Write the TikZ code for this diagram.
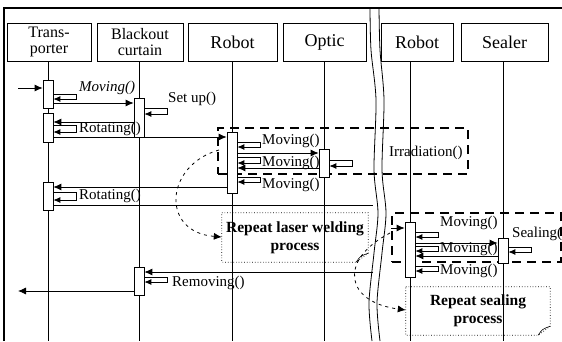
\documentclass[tikz,border=0pt]{standalone}
\usepackage{fontspec}
\setmainfont{Liberation Serif}
\usetikzlibrary{arrows.meta,calc}
\newcommand\selfmsg[3]{\draw[selfc] (#1.east |- 0,#2) -- ++(23,0) |- (#1.east |- 0,#3);}
\newcommand\callmsg[3]{\draw[msg] (#1 |- 0,#3) -- (#2 |- 0,#3);}
\tikzset{
  hdr/.style={draw, line width=0.8pt, font=\fontsize{18}{18}\selectfont, align=center, inner sep=0pt, minimum height=38pt},
  hdrtwo/.style={hdr, font=\fontsize{16}{16.5}\selectfont},
  life/.style={line width=0.7pt},
  act/.style={draw, fill=white, line width=0.7pt, minimum width=10pt, inner sep=0pt},
  msg/.style={line width=0.8pt, -{Latex[length=8pt,width=7pt]}},
  plainmsg/.style={line width=0.8pt},
  selfc/.style={line width=0.8pt, -{Latex[length=7pt,width=6pt]}},
  lbl/.style={font=\fontsize{15}{15}\selectfont, inner sep=0pt, anchor=west},
  loopbox/.style={draw, line width=1.6pt, dash pattern=on 9pt off 6pt, inner sep=0pt},
  curv/.style={line width=0.8pt, dash pattern=on 3pt off 4pt, -{Latex[length=8pt,width=7pt]}},
  notebox/.style={inner sep=0pt, align=center, font=\fontsize{15.5}{18}\selectfont\bfseries},
  noteline/.style={line width=0.7pt, dotted},
  brkline/.style={line width=0.8pt},
  frame/.style={line width=1.8pt}
}
\begin{document}
\begin{tikzpicture}[x=1pt,y=-1pt]
\useasboundingbox (0,0) rectangle (562,341);
% frame
\draw[frame] (4,341) -- (4,8) -- (562,8);
% headers
\node[hdrtwo, minimum width=84pt] (hT) at (49,42) {Trans-\\porter};
\node[hdrtwo, minimum width=86pt] (hB) at (140,42) {Blackout\\curtain};
\node[hdr, minimum width=89pt] (hR) at (232.5,42) {Robot};
\node[hdr, minimum width=83pt] (hO) at (324.5,42) {Optic};
\node[hdr, minimum width=72pt] (hR2) at (417,42) {Robot};
\node[hdr, minimum width=87pt] (hS) at (504.5,42) {Sealer};
% lifeline positions
\coordinate (xT) at (48,0);
\coordinate (xB) at (139,0);
\coordinate (xR) at (232,0);
\coordinate (xO) at (324,0);
\coordinate (xR2) at (410,0);
\coordinate (xS) at (503,0);
\foreach \c/\h in {xT/hT,xB/hB,xR/hR,xO/hO,xR2/hR2,xS/hS}
  \draw[life] (\c |- \h.south) -- (\c |- 0,341);
% break
\draw[brkline] plot[smooth] coordinates {(370,8) (371,50) (376,100) (374,170) (378,213) (374,253) (369,303) (372,341)};
\draw[brkline] plot[smooth] coordinates {(379,8) (380,50) (384,100) (382,170) (386,213) (382,253) (377,303) (380,341)};
\coordinate (brk) at (373,0);
% loop frames
\node[loopbox, minimum width=250pt, minimum height=46pt] (L1) at (343,151) {};
\node[loopbox, minimum width=169pt, minimum height=49pt] (L2) at (476.5,237.5) {};
% activations
\node[act, minimum height=28pt] (A1) at (48,94) {};
\node[act, minimum height=29pt] (A2) at (48,127.5) {};
\node[act, minimum height=28pt] (A3) at (48,196) {};
\node[act, minimum height=39pt] (B1) at (139,117.5) {};
\node[act, minimum height=28pt] (B2) at (139,281) {};
\node[act, minimum height=61pt] (R) at (232,162.5) {};
\node[act, minimum height=28pt] (O) at (324,163) {};
\node[act, minimum height=55pt] (R2) at (410,249.5) {};
\node[act, minimum height=25pt] (S) at (503,250.5) {};
% free ends
\coordinate (found) at (18,88);
\coordinate (lost) at (18,291);
\coordinate (g2) at (391,228);
% messages
\draw[msg] (found) -- (A1.west |- found);
\callmsg{A1.east}{B1.west}{103}
\callmsg{B1.west}{A2.east}{122}
\callmsg{A2.east}{R.west}{137}
\callmsg{R.east}{O.west}{153}
\callmsg{O.west}{R.east}{168}
\callmsg{R.west}{A3.east}{187}
\draw[plainmsg] (A3.east |- 0,205) -- (brk |- 0,205);
\draw[msg] (g2) -- (R2.west |- g2);
\callmsg{R2.east}{S.west}{243}
\callmsg{S.west}{R2.east}{256}
\callmsg{brk}{B2.east}{272}
\draw[msg] (B2.west |- lost) -- (lost);
% self calls
\selfmsg{A1}{94}{99}
\selfmsg{B1}{108}{114}
\selfmsg{A2}{125}{132}
\selfmsg{R}{142}{147}
\selfmsg{R}{157}{163}
\selfmsg{R}{177}{182}
\selfmsg{O}{160}{166}
\selfmsg{A3}{192}{200}
\selfmsg{R2}{232}{237}
\selfmsg{R2}{246}{251}
\selfmsg{R2}{266}{271}
\selfmsg{S}{247}{252}
\selfmsg{B2}{277}{282}
% labels
\node[lbl] (m1) at (79,88) {\textit{Moving()}};
\node[lbl] (m2) at (168,99) {Set up()};
\node[lbl] (m3) at (79,129) {Rotating()};
\node[lbl] (m4) at (262,141) {Moving()};
\node[lbl] (m5) at (262,163) {Moving()};
\node[lbl] (m6) at (262,185) {Moving()};
\node[lbl] (m7) at (389,153) {Irradiation()};
\node[lbl] (m8) at (79,196) {Rotating()};
\node[lbl] (m9) at (440,223) {Moving()};
\node[lbl] (m10) at (440,249) {Moving()};
\node[lbl] (m11) at (440,271) {Moving()};
\node[lbl] (m12) at (512,234) {Sealing()};
\node[lbl] (m13) at (172,283) {Removing()};
% notes
\node[notebox, minimum width=146pt, minimum height=49pt] (n1) at (295,237.5) {Repeat laser welding\\process};
\draw[noteline] (n1.north west) -- (n1.north east) -- ($(n1.south east)+(0,-9)$) -- ($(n1.south east)+(-12,0)$) -- (n1.south west) -- cycle;
\draw[line width=0.6pt] ($(n1.south east)+(-12,0)$) .. controls ($(n1.south east)+(-8,-6)$) .. ($(n1.south east)+(0,-9)$);
\node[notebox, minimum width=144pt, minimum height=48pt] (n2) at (478,311) {Repeat sealing\\process};
\draw[noteline] (n2.north west) -- (n2.north east) -- ($(n2.south east)+(0,-9)$) -- ($(n2.south east)+(-12,0)$) -- (n2.south west) -- cycle;
\draw[line width=0.6pt] ($(n2.south east)+(-12,0)$) .. controls ($(n2.south east)+(-8,-6)$) .. ($(n2.south east)+(0,-9)$);
% repeat arrows
\coordinate (c1s) at (219,150);
\coordinate (c2s) at (390,233);
\draw[curv] (c1s) .. controls (165,165) and (160,232) .. (n1.west |- 0,237);
\draw[curv] (c2s) .. controls (338,260) and (345,302) .. (n2.west |- 0,310);
\end{tikzpicture}
\end{document}
